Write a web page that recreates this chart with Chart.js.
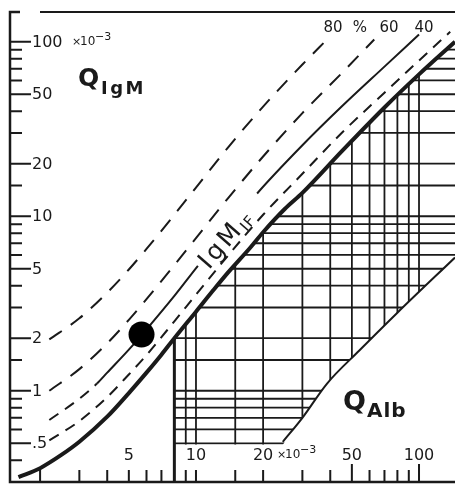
<!DOCTYPE html>
<html>
<head>
<meta charset="utf-8">
<script src="https://cdn.jsdelivr.net/npm/chart.js@4.4.0/dist/chart.umd.min.js"></script>
<style>
html, body { margin: 0; padding: 0; background: #fff; overflow: hidden; }
#wrap { position: absolute; left: 0; top: 0; width: 455px; height: 484px; }
canvas { display: block; }
</style>
</head>
<body>
<div id="wrap"><canvas id="chart" width="455" height="484"></canvas></div>
<script>
// All quotients in units of 10^-3

// upper reference limit (thick curve)
const limitAlb = [1.6, 2, 2.5, 3, 4, 5, 6, 7, 8, 10, 12, 14, 17.5, 20, 25, 30, 45, 70, 100, 145];
const limitIgM = [0.32, 0.36, 0.43, 0.51, 0.71, 0.97, 1.27, 1.61, 2.0, 2.84, 3.79, 4.8, 6.6, 8.1, 11.0, 13.6, 23.5, 42, 65, 100];

// intrathecal fraction lines
const if20Alb = [2.2, 3, 4, 5, 6, 8, 10, 14, 20, 30, 45, 70, 100, 138];
const if20IgM = [0.52, 0.67, 0.92, 1.24, 1.6, 2.5, 3.55, 6.0, 10.2, 17.5, 30, 51, 78, 114];

const if40Alb = [2.2, 3, 3.6, 4, 5, 6, 8, 10.2, 18.8, 30, 45, 70, 100];
const if40IgM = [0.68, 0.9, 1.1, 1.27, 1.72, 2.25, 3.5, 5.2, 13.5, 25.5, 42.5, 72, 110];

const if60Alb = [2.2, 3, 4, 5, 6, 8, 10, 14, 20, 30, 45, 63];
const if60IgM = [1.0, 1.33, 1.87, 2.55, 3.35, 5.25, 7.5, 12.8, 22, 39, 66, 103];

const if80Alb = [2.2, 3, 4, 5, 6, 8, 10, 14, 20, 30, 38.7];
const if80IgM = [1.97, 2.6, 3.65, 4.95, 6.5, 10.2, 14.6, 25, 42.5, 74, 103];

// lower limit (diagonal closing the hatched area)
const lowerAlb = [24.5, 30, 38.7, 54, 80, 145];
const lowerIgM = [0.51, 0.7, 1.1, 1.7, 2.8, 5.8];

// vertical boundary of the hatched area
const boundAlb = [8, 8];
const boundIgM = [0.3, 2.0];

// patient value
const patientAlb = [5.7];
const patientIgM = [2.1];

// hatching
const gridAlb = [9, 10, 15, 20, 30, 40, 50, 60, 70, 80, 90, 100];
const gridIgM = [0.5, 0.6, 0.7, 0.8, 0.9, 1, 1.5, 2, 3, 4, 5, 6, 7, 8, 9, 10, 15, 20, 30, 40, 50, 60, 70, 80, 90];

// axis ticks
const yMajor = [100, 50, 20, 10, 5, 2, 1, 0.5];
const yMajorLabels = ['100', '50', '20', '10', '5', '2', '1', '.5'];
const yMinor = [90, 80, 70, 60, 40, 30, 15, 9, 8, 7, 6, 4, 3, 1.5, 0.9, 0.8, 0.7, 0.6, 0.4];
const xShort = [2, 3, 4, 5, 6, 7, 9, 10, 15, 20, 30, 40, 60, 70, 80, 90];
const xLong = [50, 100];
const xLabelVals = [5, 10, 20, 50, 100];
const xLabels = ['5', '10', '20', '50', '100'];

const ifLabels = ['80', '%', '60', '40'];

const INK = '#1a1a1a';
const FONT = "'DejaVu Sans', sans-serif";

function pts(xs, ys) {
    return xs.map((v, i) => ({ x: v, y: ys[i] }));
}

function lineSet(xs, ys, width, dash) {
    return {
        data: pts(xs, ys),
        borderColor: INK,
        borderWidth: width,
        borderDash: dash || [],
        pointRadius: 0,
        cubicInterpolationMode: 'monotone',
        fill: false
    };
}

const if40Set = lineSet(if40Alb, if40IgM, 2);
if40Set.segment = {
    // dashed start, gap where the IgM_IF label sits
    borderDash: ctx => ctx.p0.parsed.x < 3.6 ? [11, 8] : undefined,
    borderColor: ctx => (ctx.p0.parsed.x >= 10.2 && ctx.p1.parsed.x <= 18.8) ? 'rgba(0,0,0,0)' : undefined
};

// hatched region between the curves
const hatchPlugin = {
    id: 'hatch',
    beforeDatasetsDraw(chart) {
        const { ctx, chartArea, scales: { x, y } } = chart;
        const left = x.getPixelForValue(8) - 1;
        const bottom = y.getPixelForValue(0.5) + 1.5;
        ctx.save();
        ctx.beginPath();
        ctx.moveTo(left, bottom);
        ctx.lineTo(x.getPixelForValue(lowerAlb[0]), bottom);
        for (let i = 1; i < lowerAlb.length; i++) {
            ctx.lineTo(x.getPixelForValue(lowerAlb[i]), y.getPixelForValue(lowerIgM[i]));
        }
        ctx.lineTo(chartArea.right + 2, y.getPixelForValue(lowerIgM[lowerIgM.length - 1]));
        ctx.lineTo(chartArea.right + 2, y.getPixelForValue(limitIgM[limitIgM.length - 1]));
        for (let i = limitAlb.length - 1; i >= 0; i--) {
            if (limitAlb[i] < 8) break;
            ctx.lineTo(x.getPixelForValue(limitAlb[i]), y.getPixelForValue(limitIgM[i]));
        }
        ctx.lineTo(left, y.getPixelForValue(2.0));
        ctx.closePath();
        ctx.clip();

        ctx.strokeStyle = INK;
        ctx.lineWidth = 1.8;
        ctx.beginPath();
        gridIgM.forEach(v => {
            const py = y.getPixelForValue(v);
            ctx.moveTo(left, py);
            ctx.lineTo(chartArea.right + 2, py);
        });
        gridAlb.forEach(v => {
            const px = x.getPixelForValue(v);
            ctx.moveTo(px, bottom);
            ctx.lineTo(px, chartArea.top);
        });
        ctx.stroke();
        ctx.restore();
    }
};

function sciSuffix(ctx, x0, yBase) {
    // small "x10-3" after a label
    ctx.font = '11px ' + FONT;
    ctx.textAlign = 'left';
    ctx.textBaseline = 'alphabetic';
    ctx.fillText('\u00d7', x0, yBase);
    ctx.font = '12px ' + FONT;
    ctx.fillText('10', x0 + 8, yBase);
    ctx.font = '11px ' + FONT;
    ctx.fillText('\u22123', x0 + 23, yBase - 5);
}

// axes, ticks and texts
const axesPlugin = {
    id: 'axes',
    afterDatasetsDraw(chart) {
        const { ctx, chartArea, scales: { x, y } } = chart;
        const L = chartArea.left, B = chartArea.bottom, T = chartArea.top, R = chartArea.right;
        ctx.save();
        ctx.strokeStyle = INK;
        ctx.fillStyle = INK;

        // frame
        ctx.lineWidth = 2.5;
        ctx.beginPath();
        ctx.moveTo(L + 10, T);
        ctx.lineTo(L, T);
        ctx.lineTo(L, B);
        ctx.lineTo(R, B);
        ctx.stroke();
        ctx.lineWidth = 2;
        ctx.beginPath();
        ctx.moveTo(L + 30, T);
        ctx.lineTo(R, T);
        ctx.stroke();

        // y ticks
        ctx.lineWidth = 2;
        ctx.beginPath();
        yMinor.forEach(v => {
            const py = y.getPixelForValue(v);
            ctx.moveTo(L, py);
            ctx.lineTo(L + 12, py);
        });
        yMajor.forEach(v => {
            const py = y.getPixelForValue(v);
            ctx.moveTo(L, py);
            ctx.lineTo(L + 21, py);
        });
        // x ticks
        xShort.forEach(v => {
            const px = x.getPixelForValue(v);
            ctx.moveTo(px, B);
            ctx.lineTo(px, B - 12);
        });
        xLong.forEach(v => {
            const px = x.getPixelForValue(v);
            ctx.moveTo(px, B);
            ctx.lineTo(px, B - 18);
        });
        ctx.stroke();

        // y labels
        ctx.font = '16px ' + FONT;
        ctx.textAlign = 'left';
        ctx.textBaseline = 'middle';
        yMajor.forEach((v, i) => {
            ctx.fillText(yMajorLabels[i], L + 22, y.getPixelForValue(v) + 1);
        });
        sciSuffix(ctx, L + 62, y.getPixelForValue(100) + 3);

        // x labels
        ctx.font = '16px ' + FONT;
        ctx.textAlign = 'center';
        ctx.textBaseline = 'alphabetic';
        xLabelVals.forEach((v, i) => {
            ctx.fillText(xLabels[i], x.getPixelForValue(v), B - 22);
        });
        sciSuffix(ctx, x.getPixelForValue(20) + 14, B - 24);

        // percentage labels at the top
        ctx.font = '15px ' + FONT;
        ctx.textAlign = 'center';
        const pctX = [333, 360, 389, 424];
        ifLabels.forEach((t, i) => ctx.fillText(t, pctX[i], T + 20));

        // Q_IgM
        ctx.textAlign = 'left';
        ctx.font = 'bold 25px ' + FONT;
        ctx.fillText('Q', 78, 86);
        ctx.font = 'bold 18px ' + FONT;
        ctx.letterSpacing = '2.5px';
        ctx.fillText('IgM', 101, 94);
        ctx.letterSpacing = '0px';

        // Q_Alb
        ctx.font = 'bold 27px ' + FONT;
        ctx.fillText('Q', 343, 410);
        ctx.font = 'bold 20px ' + FONT;
        ctx.letterSpacing = '1px';
        ctx.fillText('Alb', 367, 417);
        ctx.letterSpacing = '0px';

        // IgM_IF along the 40 % line
        ctx.save();
        ctx.translate(204, 266);
        ctx.rotate(-49 * Math.PI / 180);
        ctx.font = '25px ' + FONT;
        ctx.letterSpacing = '3px';
        ctx.textBaseline = 'middle';
        ctx.fillText('IgM', 0, 0);
        const w = ctx.measureText('IgM').width;
        ctx.font = '15px ' + FONT;
        ctx.letterSpacing = '1px';
        ctx.fillText('IF', w, 6);
        ctx.restore();

        ctx.restore();
    }
};

new Chart(document.getElementById('chart'), {
    type: 'line',
    data: {
        datasets: [
            {
                data: pts(patientAlb, patientIgM),
                showLine: false,
                pointRadius: 13,
                pointBackgroundColor: '#000',
                pointBorderColor: '#000',
                pointBorderWidth: 0
            },
            lineSet(limitAlb, limitIgM, 4),
            lineSet(boundAlb, boundIgM, 3),
            lineSet(lowerAlb, lowerIgM, 2),
            lineSet(if20Alb, if20IgM, 2, [11, 8]),
            if40Set,
            lineSet(if60Alb, if60IgM, 2, [15, 11]),
            lineSet(if80Alb, if80IgM, 2, [15, 11])
        ]
    },
    options: {
        responsive: false,
        animation: false,
        devicePixelRatio: 1,
        layout: { autoPadding: false, padding: { left: 10, top: 12, right: 0, bottom: 2 } },
        plugins: {
            legend: { display: false },
            tooltip: { enabled: false }
        },
        scales: {
            x: { type: 'logarithmic', min: 1.466, max: 145, display: false },
            y: { type: 'logarithmic', min: 0.316, max: 148, display: false }
        }
    },
    plugins: [hatchPlugin, axesPlugin]
});
</script>
</body>
</html>
